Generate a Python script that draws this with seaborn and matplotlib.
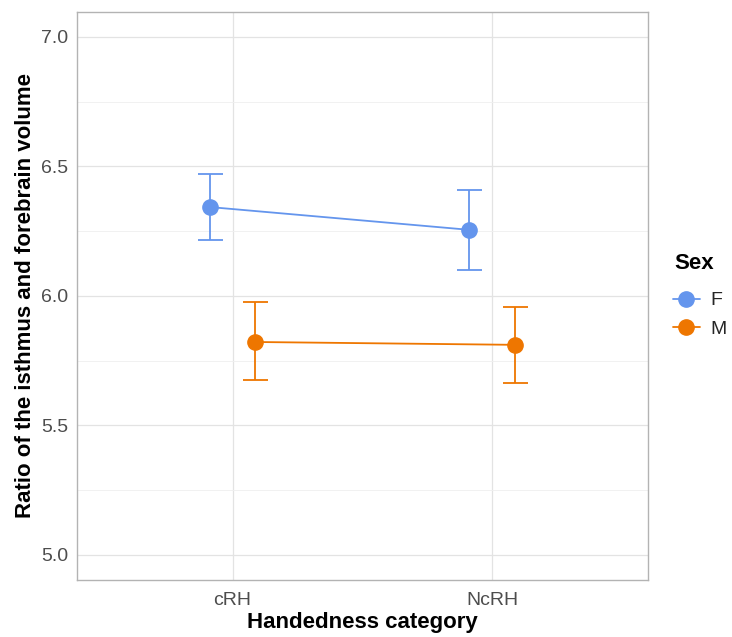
import matplotlib
matplotlib.use("Agg")
import matplotlib.pyplot as plt
from matplotlib.lines import Line2D
from matplotlib.ticker import MultipleLocator
import numpy as np
import pandas as pd
import seaborn as sns

# Group means and interval bounds
categories = ["cRH", "NcRH"]
sexes = ["F", "M"]
mean_f = [6.343, 6.255]
low_f = [6.216, 6.100]
high_f = [6.470, 6.408]
mean_m = [5.822, 5.811]
low_m = [5.676, 5.664]
high_m = [5.976, 5.957]

colors = {"F": "#6495ED", "M": "#EE7600"}

df = pd.DataFrame({
    "Handedness": categories * 2,
    "Sex": ["F"] * 2 + ["M"] * 2,
    "ratio": mean_f + mean_m,
    "low": low_f + low_m,
    "high": high_f + high_m,
})

sns.set_theme(style="whitegrid")
plt.rcParams["font.family"] = ["Liberation Sans", "DejaVu Sans"]

fig = plt.figure(figsize=(7.32, 6.37), dpi=100)
ax = fig.add_axes([0.105, 0.0895, 0.78, 0.892])

dodge = 0.175
sns.pointplot(data=df, x="Handedness", y="ratio", hue="Sex", order=categories,
              hue_order=sexes, palette=colors, dodge=dodge, errorbar=None,
              markers="o", markersize=11, linewidth=1.3, ax=ax, legend=False)

# Interval bars, placed at the dodged positions
for i, sex in enumerate(sexes):
    sub = df[df["Sex"] == sex].set_index("Handedness").loc[categories]
    xs = np.arange(len(categories)) + (i - 0.5) * dodge
    ax.errorbar(xs, sub["ratio"],
                yerr=[sub["ratio"] - sub["low"], sub["high"] - sub["ratio"]],
                fmt="none", ecolor=colors[sex], elinewidth=1.3, capsize=9,
                capthick=1.3, zorder=1)

ax.set_xlim(-0.6, 1.6)
ax.set_ylim(4.903, 7.097)
ax.yaxis.set_major_locator(MultipleLocator(0.5))
ax.yaxis.set_minor_locator(MultipleLocator(0.25))
ax.set_yticks([5.0, 5.5, 6.0, 6.5, 7.0])
ax.set_yticklabels(["5.0", "5.5", "6.0", "6.5", "7.0"])

ax.grid(which="major", color="#E3E3E3", linewidth=0.9)
ax.grid(which="minor", axis="y", color="#EFEFEF", linewidth=0.6)
ax.set_axisbelow(True)
for s in ax.spines.values():
    s.set_color("#B3B3B3")
    s.set_linewidth(1.0)

ax.tick_params(axis="both", which="major", labelsize=14, labelcolor="#4D4D4D",
               length=3, color="#B3B3B3", pad=3)
ax.tick_params(axis="x", which="major", pad=6)
ax.tick_params(axis="y", which="minor", length=0)

ax.set_xlabel("Handedness category", fontsize=16, fontweight="bold",
              color="black", labelpad=2)
ax.set_ylabel("Ratio of the isthmus and forebrain volume", fontsize=16,
              fontweight="bold", color="black", labelpad=4)

# Legend title and entries placed to the right of the panel
fig.text(0.921, 0.587, "Sex", fontsize=16, fontweight="bold", color="black",
         ha="left", va="center")
handles = [Line2D([0], [0], color=colors[s], marker="o", markersize=11,
                  linewidth=1.3) for s in sexes]
leg = fig.legend(handles, sexes, loc="upper left",
                 bbox_to_anchor=(0.919, 0.542), frameon=False, fontsize=14,
                 handlelength=1.4, handletextpad=0.55, labelspacing=0.55,
                 borderaxespad=0, borderpad=0)

fig.savefig("out.png", dpi=100)
